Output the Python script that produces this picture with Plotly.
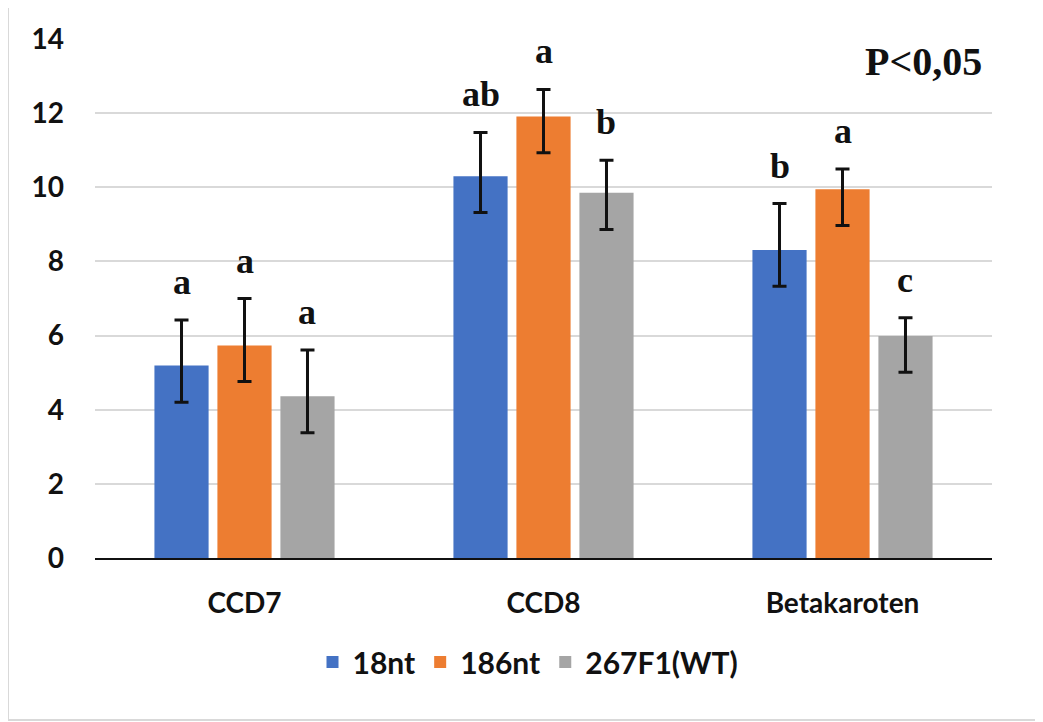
import plotly.graph_objects as go

categories = ["CCD7", "CCD8", "Betakaroten"]
series_names = ["18nt", "186nt", "267F1(WT)"]
colors = ["#4472C4", "#ED7D31", "#A5A5A5"]

values_18nt = [5.19, 10.30, 8.31]
values_186nt = [5.73, 11.91, 9.95]
values_wt = [4.36, 9.85, 5.99]

err_up_18nt = [1.23, 1.18, 1.25]
err_up_186nt = [1.27, 0.73, 0.54]
err_up_wt = [1.25, 0.88, 0.49]

err_down_18nt = [0.99, 0.98, 0.98]
err_down_186nt = [0.97, 0.98, 0.98]
err_down_wt = [0.98, 0.99, 0.98]

letters_18nt = ["a", "ab", "b"]
letters_186nt = ["a", "a", "a"]
letters_wt = ["a", "b", "c"]

y_ticks = [0, 2, 4, 6, 8, 10, 12, 14]
p_text = "P<0,05"

values = [values_18nt, values_186nt, values_wt]
err_up = [err_up_18nt, err_up_186nt, err_up_wt]
err_down = [err_down_18nt, err_down_186nt, err_down_wt]
letters = [letters_18nt, letters_186nt, letters_wt]

SANS = "Lato"
SERIF = "Liberation Serif"

fig = go.Figure()
for name, col, v, eu, ed in zip(series_names, colors, values, err_up, err_down):
    fig.add_trace(go.Bar(
        name=name, x=categories, y=v, marker=dict(color=col, line=dict(width=0)),
        error_y=dict(type="data", symmetric=False, array=eu, arrayminus=ed,
                     color="#111111", thickness=3, width=7),
    ))

# layout geometry (page body adds an 8px offset)
L, R, T, B = 87, 59, 31, 172
W, H = 1043, 722
plot_w = W - L - R
plot_h = H - T - B
bargap = 0.368
cat_w = plot_w / len(categories)
slot = cat_w * (1 - bargap) / len(series_names)

annotations = []
for s, (v, eu, lt) in enumerate(zip(values, err_up, letters)):
    for i, cat in enumerate(categories):
        annotations.append(dict(
            x=cat, y=v[i] + eu[i], xref="x", yref="y", text=lt[i],
            showarrow=False, yanchor="bottom", yshift=16,
            xshift=(s - 1) * slot,
            font=dict(family=SERIF, size=36, color="#111111", weight="bold"),
        ))
annotations.append(dict(
    x=(915 - L) / plot_w, y=(550 - 53) / plot_h, xref="paper", yref="paper", text=p_text,
    showarrow=False, xanchor="center", yanchor="middle",
    font=dict(family=SERIF, size=40, color="#111111", weight="bold"),
))

fig.update_layout(
    width=W, height=H,
    margin=dict(l=L, r=R, t=T, b=B, autoexpand=False),
    paper_bgcolor="white", plot_bgcolor="white",
    barmode="group", bargap=bargap, bargroupgap=0.14,
    showlegend=True,
    legend=dict(orientation="h", x=(520 - L) / plot_w, y=(550 - 654) / plot_h,
                xanchor="center", yanchor="middle",
                font=dict(family=SANS, size=30, color="#111111", weight="bold"),
                itemwidth=30, tracegroupgap=0),
    annotations=annotations,
    shapes=[dict(type="rect", xref="paper", yref="paper",
                 x0=(0 - L) / plot_w, x1=(1031 - L) / plot_w,
                 y0=(550 - 712) / plot_h, y1=(550 - (-5)) / plot_h,
                 line=dict(color="#D9D9D9", width=2), fillcolor="rgba(0,0,0,0)", layer="below")],
)
fig.update_yaxes(range=[0, 14], tickvals=y_ticks, showgrid=True, gridcolor="#D9D9D9", gridwidth=1.5,
                 zeroline=False, showline=False, ticks="", ticklabelstandoff=30,
                 tickfont=dict(family=SANS, size=28, color="#111111", weight="bold"))
fig.update_xaxes(showline=True, linecolor="#111111", linewidth=1.5, ticks="",
                 ticklabelstandoff=20,
                 tickfont=dict(family=SANS, size=28, color="#111111", weight="bold"))

fig.write_html("out.html")
